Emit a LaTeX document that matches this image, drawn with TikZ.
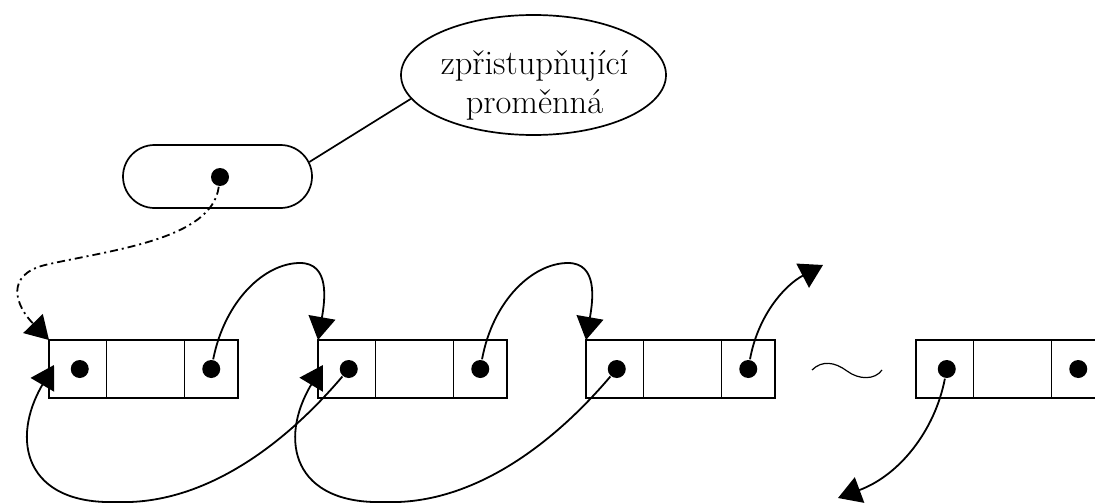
\documentclass[tikz,border=0pt]{standalone}
\usetikzlibrary{arrows.meta,shapes.geometric,shapes.misc,calc}
\begin{document}
\begin{tikzpicture}[x=1pt,y=-1pt,
  line width=1.7pt,
  cell/.style={draw, line width=1.9pt, rectangle, minimum height=58pt, inner sep=0pt, outer sep=0pt},
  dot/.style={circle, fill=black, minimum size=18pt, inner sep=0pt},
  link/.style={line width=1.8pt, -{Triangle[length=23pt,width=27pt]}},
  access/.style={line width=1.8pt, dash pattern=on 8pt off 4pt on 2pt off 4pt,
                 -{Triangle[length=23pt,width=27pt]}}]
\useasboundingbox (0,0) rectangle (1095,503);
\clip (0,0) rectangle (1095,503);

% access variable and its label
\node[ellipse, draw, minimum width=265pt, minimum height=120pt, inner sep=0pt] (ell) at (533.5,75) {};
\node[align=center, inner sep=0pt, font=\fontsize{34.5}{39}\selectfont] (lbl) at (534.5,85)
  {zpřistupňující\\proměnná};
\node[rounded rectangle, draw, minimum width=189pt, minimum height=63pt, inner sep=0pt] (pill) at (217.5,176.5) {};
\node[dot] (d0) at (220,177) {};
\draw (pill.9) -- (ell.191.6);

% list elements: pointer | data | pointer
\foreach \i/\x in {1/49,2/318,3/586,4/916} {
  \node[cell, minimum width=57.5pt, anchor=west] (b\i l) at (\x,369) {};
  \node[cell, minimum width=78pt, anchor=west] (b\i m) at (b\i l.east) {};
  \node[cell, minimum width=53.5pt, anchor=west] (b\i r) at (b\i m.east) {};
  \node[dot] (d\i l) at ($(b\i l.center)+(2,0)$) {};
  \node[dot] (d\i r) at (b\i r.center) {};
}

\coordinate (in1) at ($(b1l.north west)+(5,25)$);
\coordinate (in2) at ($(b2l.north west)+(5,25)$);
\coordinate (out3) at (823,265);
\coordinate (out4) at (838,498);

% access pointer to the first element
\draw[access] (d0) .. controls (212,240) and (110,250) .. (45,265)
  .. controls (5,275) and (15,305) .. (b1l.north west);

% forward links
\draw[link] (d1r) .. controls (225,300) and (265,263) .. (300,263)
  .. controls (330,263) and (325,300) .. (b2l.north west);
\draw[link] (d2r) .. controls (493,300) and (533,263) .. (568,263)
  .. controls (598,263) and (593,300) .. (b3l.north west);
\draw[link] (d3r) .. controls (758,315) and (785,285) .. (out3);

% backward links
\draw[link] (d2l) .. controls (280,450) and (200,505) .. (117,502)
  .. controls (25,505) and (10,440) .. (in1);
\draw[link] (d3l) .. controls (548,450) and (468,505) .. (385,502)
  .. controls (293,505) and (278,440) .. (in2);
\draw[link] (d4l) .. controls (935,430) and (900,475) .. (out4);

% omitted elements
\draw[line width=1.2pt] (812,370) .. controls (822,360) and (835,362) .. (847,371)
  .. controls (859,380) and (875,380) .. (882,370);
\end{tikzpicture}
\end{document}
